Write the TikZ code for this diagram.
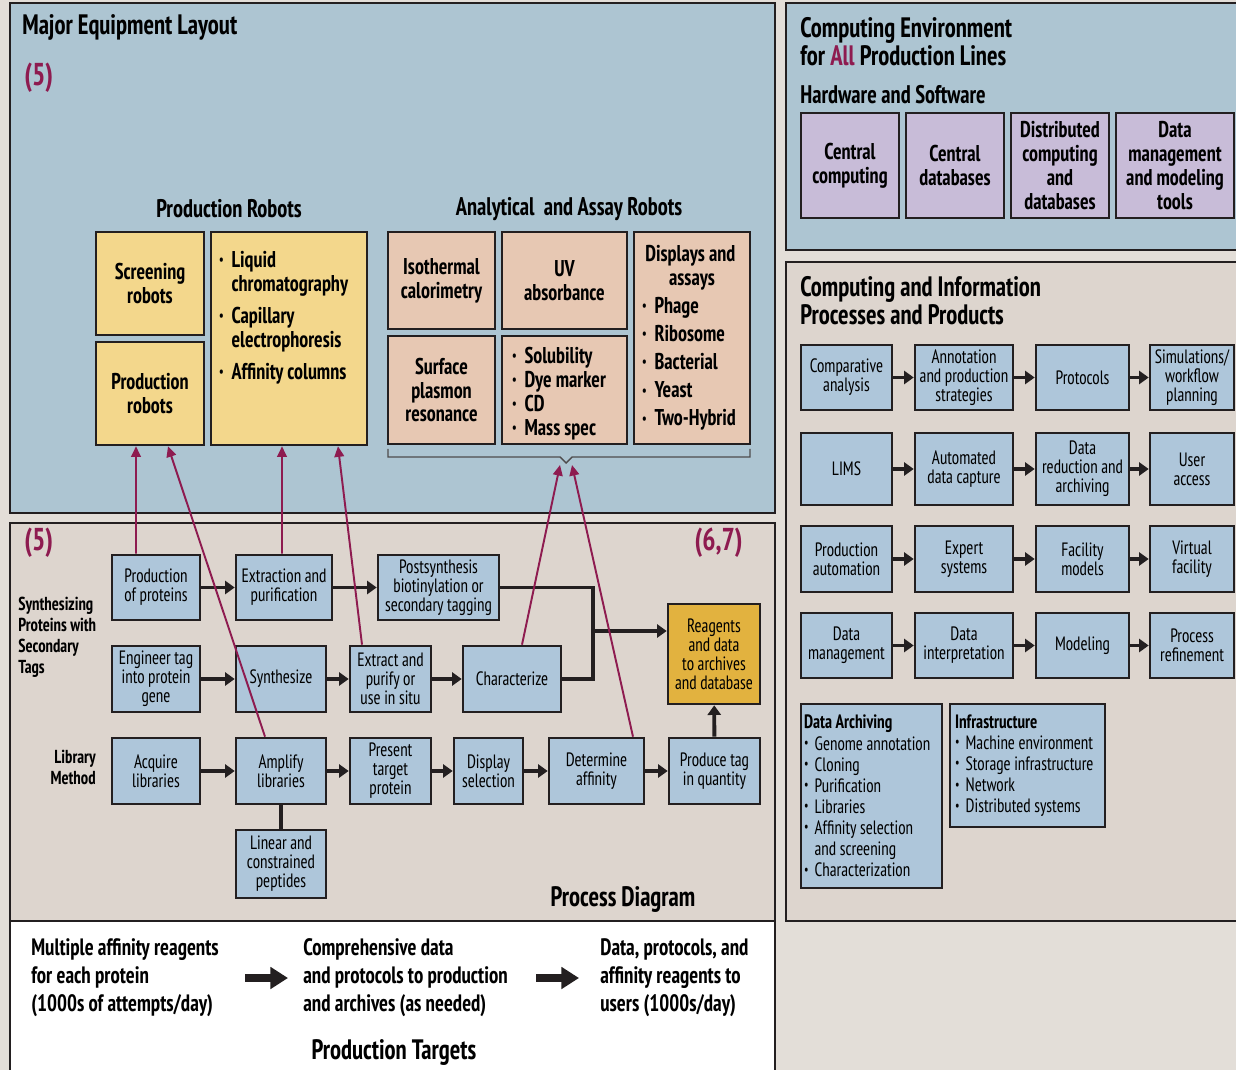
\documentclass[tikz,border=0pt]{standalone}
\usepackage{fontspec}
\IfFontExistsTF{PT Sans Narrow}
  {\setmainfont{PT Sans Narrow}[FakeStretch=0.88]}
  {\setmainfont{PT Sans}[FakeStretch=0.74]}
\usetikzlibrary{arrows.meta}

\definecolor{outerbg}{HTML}{E3DED8}
\definecolor{panelblue}{HTML}{ADC5D2}
\definecolor{panelbeige}{HTML}{DDD5CE}
\definecolor{boxblue}{HTML}{AEC6DA}
\definecolor{yellowbox}{HTML}{F3D78C}
\definecolor{pinkbox}{HTML}{E7C8B3}
\definecolor{purplebox}{HTML}{C8BCD8}
\definecolor{orangebox}{HTML}{E2B23F}
\definecolor{maroon}{HTML}{8E1B50}
\definecolor{edge}{HTML}{231F20}

\newcommand\ttlfont{\fontsize{16}{16}\selectfont\bfseries}
\newcommand\robfont{\fontsize{13}{13.6}\selectfont\bfseries}
\newcommand\boxfont{\fontsize{11}{10.8}\selectfont}
\newcommand\lstfont{\fontsize{11}{12}\selectfont}
\newcommand\tgtfont{\fontsize{13.5}{16}\selectfont\bfseries}
\newcommand\plainsp{\spaceskip=0pt\xspaceskip=0pt\hyphenpenalty=10000\exhyphenpenalty=10000\relax}
\newcommand\itm{\par\plainsp\hangindent=0.55em\hangafter=1\noindent\makebox[0.55em][l]{\raisebox{0.25ex}{\fontsize{8}{8}\selectfont\textbullet}}}

\begin{document}
\begin{tikzpicture}[x=0.02cm,y=-0.02cm,
	sz/.style 2 args={minimum width=#1*0.02cm, minimum height=#2*0.02cm},
	panel/.style={draw=edge, line width=1.6pt},
	box/.style={draw=edge, line width=1.5pt, fill=boxblue, align=center, inner sep=1pt, font=\boxfont},
	ybox/.style={box, fill=yellowbox, font=\robfont},
	pbox/.style={box, fill=pinkbox, font=\robfont},
	vbox/.style={box, fill=purplebox, font=\robfont},
	lbox/.style={box, align=left, font=\lstfont},
	title/.style={inner sep=0pt, font=\ttlfont},
	subtitle/.style={inner sep=0pt, font=\fontsize{14.5}{16}\selectfont\bfseries},
	ref/.style={inner sep=0pt, text=maroon, font=\fontsize{18}{18}\selectfont\bfseries},
	side/.style={inner sep=0pt, font=\fontsize{10.7}{11.9}\selectfont\bfseries},
	tgt/.style={inner sep=0pt, align=left, font=\tgtfont},
	flow/.style={draw=edge, line width=2.2pt, -{Triangle[length=5.5pt,width=7.5pt]}},
	thk/.style={draw=edge, line width=2.2pt},
	link/.style={draw=maroon, line width=1.1pt, -{Triangle[length=6pt,width=5.5pt]}},
	bigarrow/.style={draw=edge, line width=4.5pt, -{Triangle[length=10pt,width=12pt]}},
	bracket/.style={draw=edge!80, line width=0.8pt}]
	\useasboundingbox (0,0) rectangle (1236,1070);
	\fill[outerbg] (0,0) rectangle (1236,1070);
	% panels
	\draw[panel, fill=panelblue] (10,3) rectangle (775,513);
	\draw[panel, fill=panelbeige] (10,523) rectangle (775,921);
	\draw[panel, fill=white] (10,921) rectangle (775,1090);
	\draw[panel, fill=panelblue] (786,3) rectangle (1250,250);
	\draw[panel, fill=panelbeige] (786,262) rectangle (1250,921);
	
	% major equipment layout
	\node[title, anchor=west] (mel) at (22,27) {Major Equipment Layout};
	\node[ref, anchor=west] (refa) at (24,78) {(5)};
	\node[subtitle] (prodtitle) at (229,209) {Production Robots};
	\node[subtitle] (anatitle) at (569,209) {Analytical~ and Assay Robots};
	\node[ybox, sz={108}{103}] (scr) at (150,283.5) {Screening\\robots};
	\node[ybox, sz={108}{103}] (prodrob) at (150,393.5) {Production\\robots};
	\node[ybox, sz={156}{213}] (liq) at (289,338.5) {};
	\node[anchor=north west, inner sep=0pt, font=\robfont, text width=2.9cm, align=left] (liqtext) at ([xshift=0.18cm,yshift=-0.1cm]liq.north west) {\setlength\parskip{4.5pt}\itm Liquid\newline chromatography\itm Capillary\newline electrophoresis\itm Affinity columns};
	\node[pbox, sz={107}{97}] (iso) at (441.5,280.5) {Isothermal\\calorimetry};
	\node[pbox, sz={125}{97}] (uv) at (564.5,280.5) {UV\\absorbance};
	\node[pbox, sz={107}{108}] (surf) at (441.5,390) {Surface\\plasmon\\resonance};
	\node[pbox, sz={125}{108}, text width=2.1cm, align=left] (sol) at (564.5,390) {\itm Solubility\itm Dye marker\itm CD\itm Mass spec};
	\node[pbox, sz={116}{212}, text width=2.0cm, align=left] (disp) at (692,338) {\setlength\parskip{2.4pt}\plainsp\centering Displays and\newline assays\par\raggedright\itm Phage\itm Ribosome\itm Bacterial\itm Yeast\itm Two-Hybrid};
	\draw[bracket] (388,449) -- (388,457) -- (560,457) -- (566,463) -- (572,457) -- (750,457) -- (750,449);
	\coordinate (brace) at (566,465);
	
	% process diagram
	\node[ref, anchor=west] (refb) at (24,543) {(5)};
	\node[ref, anchor=east] (refc) at (743,543) {(6,7)};
	\node[side, anchor=west, align=left] (synlab) at (18,637) {Synthesizing\\Proteins with\\Secondary\\Tags};
	\node[side, anchor=east, align=right] (liblab) at (96,767) {Library\\Method};
	\node[box, sz={88}{65}] (pp) at (156,587.5) {Production\\of proteins};
	\node[box, sz={96}{65}] (ep) at (284,587.5) {Extraction and\\purification};
	\node[box, sz={121}{65}] (ps) at (438.5,587.5) {Postsynthesis\\biotinylation or\\secondary tagging};
	\node[box, sz={88}{66}] (eg) at (156,679) {Engineer tag\\into protein\\gene};
	\node[box, sz={90}{66}] (sy) at (281,679) {Synthesize};
	\node[box, sz={81}{66}] (ex) at (390.5,679) {Extract and\\purify or\\use in situ};
	\node[box, sz={98}{66}] (ch) at (512,679) {Characterize};
	\node[box, sz={92}{100}, fill=orangebox] (rg) at (714,654) {Reagents\\and data\\to archives\\and database};
	\node[box, sz={88}{66}] (aq) at (156,771) {Acquire\\libraries};
	\node[box, sz={90}{66}] (am) at (281,771) {Amplify\\libraries};
	\node[box, sz={81}{66}] (pt) at (390.5,771) {Present\\target\\protein};
	\node[box, sz={69}{66}] (ds) at (488.5,771) {Display\\selection};
	\node[box, sz={95}{66}] (dt) at (596.5,771) {Determine\\affinity};
	\node[box, sz={91}{66}] (pq) at (714.5,771) {Produce tag\\in quantity};
	\node[box, sz={90}{68}] (lc) at (281,864) {Linear and\\constrained\\peptides};
	\node[title] (pdtitle) at (623,899) {Process Diagram};
	\foreach \a/\b in {pp/ep, ep/ps, eg/sy, sy/ex, ex/ch, aq/am, am/pt, pt/ds, ds/dt, dt/pq, pq/rg}
	\draw[flow] (\a) -- (\b);
	\draw[thk] (am) -- (lc);
	\coordinate (mg) at (593,631);
	\draw[thk] (ps.east) -| (mg);
	\draw[thk] (ch.east) -| (mg);
	\draw[flow] (mg) -- (rg.west |- mg);
	\draw[link] ([xshift=-0.4cm]pp.north) -- ([xshift=-0.28cm]prodrob.south);
	\draw[link] ([xshift=-0.32cm]am.north) -- ([xshift=0.36cm]prodrob.south);
	\draw[link] ([xshift=-0.04cm]ep.north) -- ([xshift=-0.14cm]liq.south);
	\draw[link] ([xshift=-0.57cm]ex.north) -- ([xshift=0.98cm]liq.south);
	\draw[link] ([xshift=0.2cm]ch.north) -- ([xshift=-0.12cm]brace);
	\draw[link] ([xshift=0.73cm]dt.north) -- ([xshift=0.12cm]brace);
	
	% production targets
	\node[tgt, anchor=west] (ta) at (31,978) {Multiple affinity reagents\\for each protein\\(1000s of attempts/day)};
	\node[tgt, anchor=west] (tb) at (303,978) {Comprehensive data\\and protocols to production\\and archives (as needed)};
	\node[tgt, anchor=west] (tc) at (600,978) {Data, protocols, and\\affinity reagents to\\users (1000s/day)};
	\coordinate (a1) at (245,978);
	\coordinate (a2) at (288,978);
	\coordinate (a3) at (536,978);
	\coordinate (a4) at (579,978);
	\draw[bigarrow] (a1) -- (a2);
	\draw[bigarrow] (a3) -- (a4);
	\node[title] (tgttitle) at (394,1052) {Production Targets};
	
	% computing environment
	\node[title, anchor=west, align=left] (cetitle) at (800,42) {Computing Environment\\for \textcolor{maroon}{All} Production Lines};
	\node[subtitle, anchor=west] (hwtitle) at (800,95) {Hardware and Software};
	\node[vbox, sz={98}{105}] (cc) at (850,165.5) {Central\\computing};
	\node[vbox, sz={98}{105}] (cd) at (955,165.5) {Central\\databases};
	\node[vbox, sz={98}{105}] (dc) at (1060,165.5) {Distributed\\computing\\and\\databases};
	\node[vbox, sz={118}{105}] (dm) at (1175,165.5) {Data\\management\\and modeling\\tools};
	
	% computing and information
	\node[title, anchor=west, align=left] (cititle) at (800,301) {Computing and Information\\Processes and Products};
	\node[box, sz={91}{65}] (cmp) at (846.5,377.5) {Comparative\\analysis};
	\node[box, sz={98}{65}] (ann) at (964,377.5) {Annotation\\and production\\strategies};
	\node[box, sz={93}{65}] (prot) at (1082.5,377.5) {Protocols};
	\node[box, sz={84}{65}] (sim) at (1192,377.5) {Simulations/\\workflow\\planning};
	\node[box, sz={91}{72}] (lims) at (846.5,469) {LIMS};
	\node[box, sz={98}{72}] (adc) at (964,469) {Automated\\data capture};
	\node[box, sz={93}{72}] (drd) at (1082.5,469) {Data\\reduction and\\archiving};
	\node[box, sz={84}{72}] (usr) at (1192,469) {User\\access};
	\node[box, sz={91}{66}] (pau) at (846.5,559) {Production\\automation};
	\node[box, sz={98}{66}] (exs) at (964,559) {Expert\\systems};
	\node[box, sz={93}{66}] (fcm) at (1082.5,559) {Facility\\models};
	\node[box, sz={84}{66}] (vfc) at (1192,559) {Virtual\\facility};
	\node[box, sz={91}{65}] (dmg) at (846.5,645.5) {Data\\management};
	\node[box, sz={98}{65}] (din) at (964,645.5) {Data\\interpretation};
	\node[box, sz={93}{65}] (mdl) at (1082.5,645.5) {Modeling};
	\node[box, sz={84}{65}] (prf) at (1192,645.5) {Process\\refinement};
	\foreach \a/\b in {cmp/ann, ann/prot, prot/sim, lims/adc, adc/drd, drd/usr, pau/exs, exs/fcm, fcm/vfc, dmg/din, din/mdl, mdl/prf}
	\draw[flow] (\a) -- (\b);
	\node[lbox, sz={141}{184}, text width=2.7cm] (darch) at (871.5,796) {\plainsp{\bfseries Data Archiving}\itm Genome annotation\itm Cloning\itm Purification\itm Libraries\itm Affinity selection\newline and screening\itm Characterization};
	\node[lbox, sz={155}{123}, text width=2.9cm] (infra) at (1027.5,765.5) {\plainsp{\bfseries Infrastructure}\itm Machine environment\itm Storage infrastructure\itm Network\itm Distributed systems};
\end{tikzpicture}
\end{document}
